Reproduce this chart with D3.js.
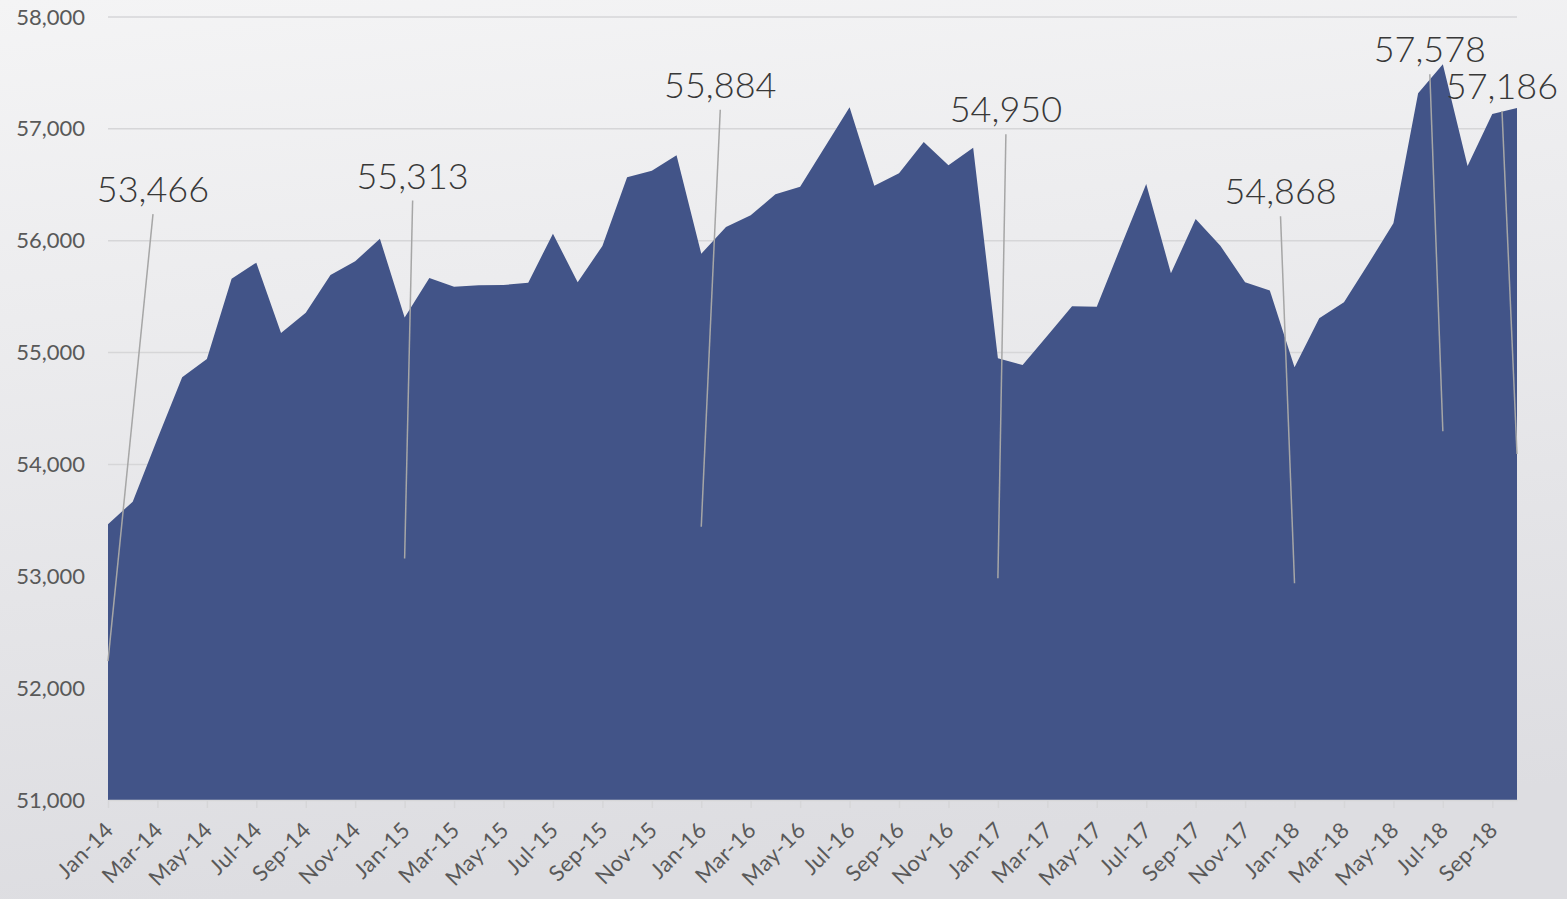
<!DOCTYPE html>
<html lang="en">
<head>
<meta charset="utf-8">
<title>Monthly series 2014-2018</title>
<script src="https://cdn.jsdelivr.net/npm/d3@7"></script>
<style>
  html, body { margin: 0; padding: 0; }
  body { width: 1567px; height: 899px; overflow: hidden; }
  text { font-family: Lato, "Open Sans", sans-serif; }
</style>
</head>
<body>
<div id="chart"></div>
<script>
// months Jan-14 .. Oct-18
var values2014 = [53466, 53667, 54230, 54779, 54943, 55660, 55804, 55175, 55357, 55694, 55816, 56018];
var values2015 = [55313, 55667, 55589, 55601, 55604, 55625, 56063, 55628, 55953, 56567, 56626, 56763];
var values2016 = [55884, 56123, 56227, 56415, 56483, 56838, 57193, 56492, 56603, 56883, 56674, 56832];
var values2017 = [54950, 54889, 55151, 55414, 55410, 55962, 56507, 55709, 56194, 55956, 55628, 55556];
var values2018 = [54868, 55306, 55449, 55798, 56156, 57318, 57578, 56668, 57133, 57186];

var tickLabels = ["Jan-14","Mar-14","May-14","Jul-14","Sep-14","Nov-14",
  "Jan-15","Mar-15","May-15","Jul-15","Sep-15","Nov-15",
  "Jan-16","Mar-16","May-16","Jul-16","Sep-16","Nov-16",
  "Jan-17","Mar-17","May-17","Jul-17","Sep-17","Nov-17",
  "Jan-18","Mar-18","May-18","Jul-18","Sep-18"];
var yTicks = [51000, 52000, 53000, 54000, 55000, 56000, 57000, 58000];

// which points carry a value label
var labelled = [0, 12, 24, 36, 48, 54, 57];

(function() {
var values = values2014.concat(values2015, values2016, values2017, values2018);

var W = 1567, H = 899;
var mLeft = 108, mRight = 1517, mTop = 17, mBottom = 800;

var svg = d3.select("#chart").append("svg")
  .attr("width", W).attr("height", H);

var defs = svg.append("defs");
var bg = defs.append("linearGradient")
  .attr("id", "bg").attr("x1", "0").attr("y1", "0").attr("x2", "0.15").attr("y2", "1");
bg.append("stop").attr("offset", "0").attr("stop-color", "#f4f4f5");
bg.append("stop").attr("offset", "1").attr("stop-color", "#dddde1");

svg.append("rect").attr("width", W).attr("height", H).attr("fill", "url(#bg)");

var x = d3.scaleLinear().domain([0, values.length - 1]).range([mLeft, mRight]);
var y = d3.scaleLinear().domain([51000, 58000]).range([mBottom, mTop]);

// gridlines
svg.append("g")
  .selectAll("line").data(yTicks.slice(1)).enter().append("line")
  .attr("x1", mLeft).attr("x2", mRight)
  .attr("y1", function(d) { return y(d); }).attr("y2", function(d) { return y(d); })
  .attr("stroke", "#d6d6d8").attr("stroke-width", 1.5);

// area
var area = d3.area()
  .x(function(d, i) { return x(i); })
  .y0(y(51000))
  .y1(function(d) { return y(d); });

svg.append("path").datum(values)
  .attr("d", area)
  .attr("fill", "#425488");

// y axis labels
var yAxis = d3.axisLeft(y).tickValues(yTicks).tickSize(0).tickPadding(23)
  .tickFormat(d3.format(","));
var gy = svg.append("g").attr("transform", "translate(" + mLeft + ",0)").call(yAxis);
gy.select(".domain").remove();
gy.selectAll("text").attr("fill", "#595959").style("font-size", "22px")
  .style("font-family", "Lato, sans-serif");

// x axis
var tickIdx = d3.range(0, values.length, 2);
var xAxis = d3.axisBottom(x).tickValues(tickIdx).tickSize(8).tickSizeOuter(0)
  .tickFormat(function(d) { return tickLabels[d / 2]; });
var gx = svg.append("g").attr("transform", "translate(0," + mBottom + ")").call(xAxis);
gx.select(".domain").attr("stroke", "#d6d6d8").attr("stroke-width", 1.5);
gx.selectAll(".tick line").attr("stroke", "#d6d6d8").attr("stroke-width", 1.5);
gx.selectAll("text")
  .attr("fill", "#595959").style("font-size", "22px")
  .style("font-family", "Lato, sans-serif")
  .style("letter-spacing", "0.5px")
  .attr("text-anchor", "end")
  .attr("x", 0).attr("y", 0).attr("dy", "0.35em")
  .attr("transform", "translate(1,26) rotate(-45)");

// value labels with leader lines (offsets in px from the point)
var labelPos = {
  0:  { dx: 45,  dy: -322, end: 137 },
  12: { dx: 8,   dy: -129, end: 241 },
  24: { dx: 19,  dy: -156, end: 273 },
  36: { dx: 8,   dy: -236, end: 220 },
  48: { dx: -14, dy: -163, end: 216 },
  54: { dx: -13, dy: -2,   end: 367 },
  57: { dx: -15, dy: -9,   end: 346 }
};

var ann = svg.append("g").selectAll("g").data(labelled).enter().append("g");

ann.append("line")
  .attr("x1", function(i) { return x(i) + labelPos[i].dx; })
  .attr("y1", function(i) { return y(values[i]) + labelPos[i].dy + 12; })
  .attr("x2", function(i) { return x(i); })
  .attr("y2", function(i) { return y(values[i]) + labelPos[i].end; })
  .attr("stroke", "#a6a6a6").attr("stroke-width", 1.5);

ann.append("text")
  .attr("x", function(i) { return x(i) + labelPos[i].dx; })
  .attr("y", function(i) { return y(values[i]) + labelPos[i].dy; })
  .attr("text-anchor", "middle")
  .attr("fill", "#383838")
  .style("font-size", "36px")
  .style("font-weight", "300")
  .text(function(i) { return d3.format(",")(values[i]); });
})();
</script>
</body>
</html>
